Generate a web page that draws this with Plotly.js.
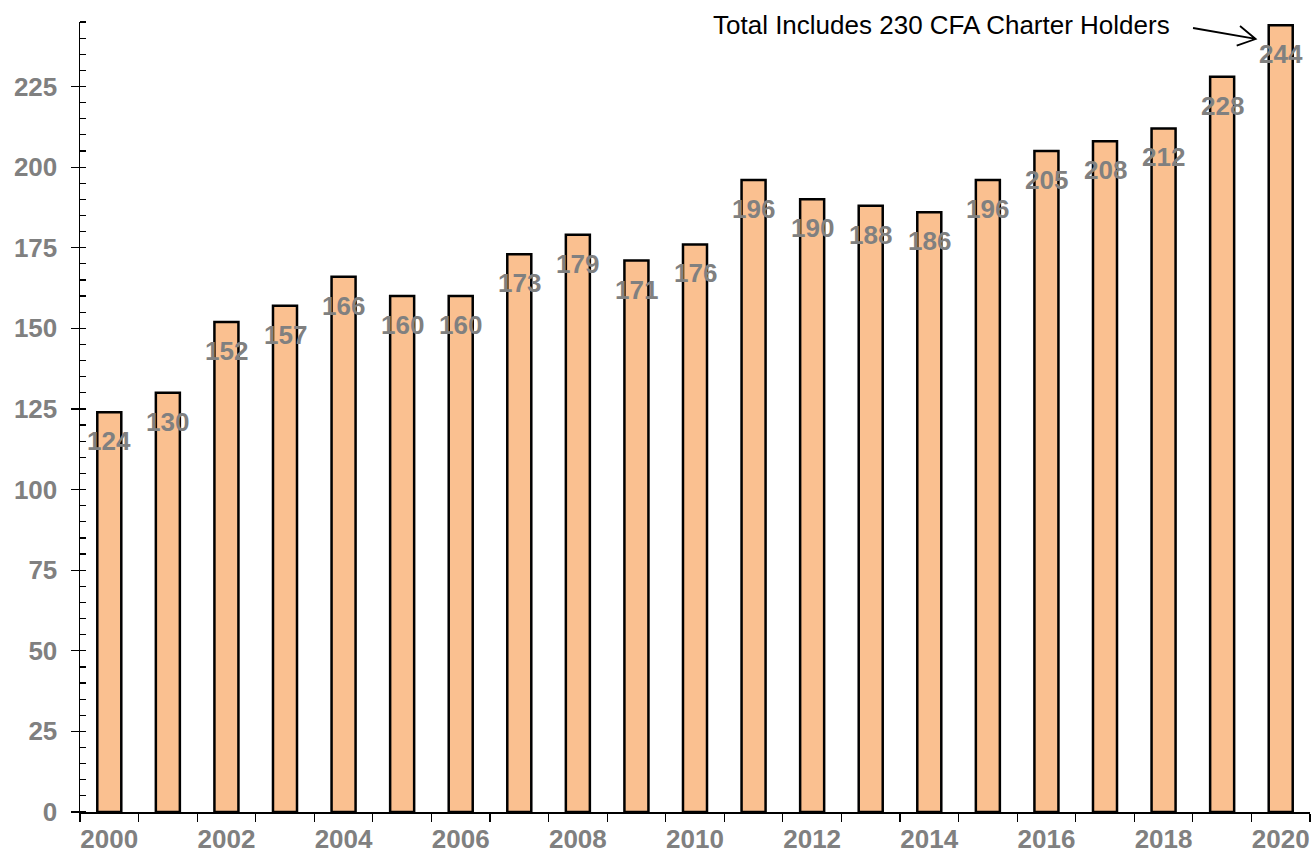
<!DOCTYPE html>
<html><head><meta charset="utf-8">
<script src="https://cdn.plot.ly/plotly-3.0.1.min.js"></script>
<style>html,body{margin:0;padding:0;background:#fff}#chart{width:1314px;height:856px}</style>
</head><body><div id="chart"></div>
<script>
const years = ["2000","2001","2002","2003","2004","2005","2006","2007","2008","2009","2010","2011","2012","2013","2014","2015","2016","2017","2018","2019","2020"];
const counts = [124,130,152,157,166,160,160,173,179,171,176,196,190,188,186,196,205,208,212,228,244];
const yTicks = [0,25,50,75,100,125,150,175,200,225];
const xTickText = years.map((y,i)=> i%2===0 ? y : "");
const noteText = "Total Includes 230 CFA Charter Holders";

const gray = "#808080";
const labelFont = {family:"Liberation Sans, Arial, sans-serif", size:26, color:gray, weight:"bold"};

const trace = {
  type:"bar", x:years, y:counts,
  marker:{color:"#FAC090", line:{color:"#000", width:2.5}},
  hoverinfo:"skip"
};

const valueAnns = years.map((y,i)=>({
  x:i, y:counts[i], xref:"x", yref:"y", text:String(counts[i]),
  showarrow:false, yanchor:"middle", yshift:-29,
  font:labelFont
}));

const layout = {
  width:1314, height:856,
  margin:{l:80, r:4, t:22, b:44},
  paper_bgcolor:"#fff", plot_bgcolor:"#fff",
  showlegend:false, bargap:0.59,
  xaxis:{
    type:"category", tickvals:years, ticktext:xTickText, tickson:"boundaries", tickangle:0,
    ticks:"outside", ticklen:8, tickcolor:"#000", tickwidth:1.2,
    showline:true, linecolor:"#000", linewidth:1.5, showgrid:false, zeroline:false,
    tickfont:labelFont, range:[-0.5, years.length-0.5], ticklabelstandoff:3
  },
  yaxis:{
    range:[0,245], tickvals:yTicks, ticks:"outside", ticklen:8, tickcolor:"#000", tickwidth:1.2,
    showline:true, linecolor:"#000", linewidth:1.5, showgrid:false, zeroline:false,
    tickfont:labelFont, ticklabelstandoff:8,
    minor:{dtick:5, ticks:"inside", ticklen:6, tickcolor:"#000", tickwidth:1.2, showgrid:false}
  },
  yaxis2:{
    overlaying:"y", side:"left", range:[0,245], tickvals:yTicks, ticks:"inside", ticklen:6,
    tickcolor:"#000", tickwidth:1.2, showticklabels:false, showline:false, showgrid:false, zeroline:false
  },
  annotations: valueAnns.concat([{
    xref:"paper", yref:"paper", x:0.8878, y:0.996, xanchor:"right", yanchor:"middle",
    text:noteText, showarrow:false,
    font:{family:"Liberation Sans, Arial, sans-serif", size:26, color:"#000"}
  }]),
  shapes:[
    {type:"path", xref:"paper", yref:"paper",
     path:"M0.9049,0.9924 L0.9558,0.9785 M0.9431,0.9949 L0.9558,0.9785 L0.9404,0.9700",
     line:{color:"#000", width:1.8}}
  ]
};

Plotly.newPlot("chart",[trace],layout,{displayModeBar:false, staticPlot:true});
</script></body></html>
